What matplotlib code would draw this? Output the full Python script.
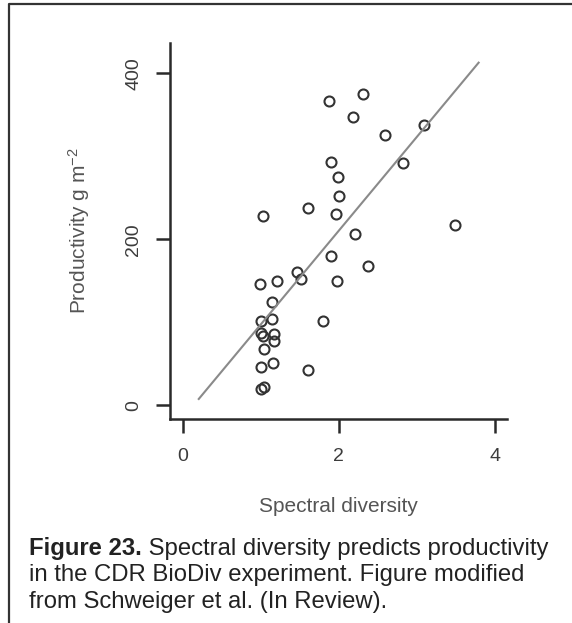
import matplotlib
matplotlib.use("Agg")
import matplotlib.pyplot as plt
from matplotlib.lines import Line2D

plt.rcParams["font.family"] = ["Liberation Sans", "DejaVu Sans"]
plt.rcParams["mathtext.fontset"] = "custom"
plt.rcParams["mathtext.rm"] = "Liberation Sans"
plt.rcParams["mathtext.it"] = "Liberation Sans:italic"

# data (spectral diversity vs productivity)
spectral_div = [1.88, 2.31, 2.18, 3.10, 2.60, 1.90, 2.82, 1.99, 2.01, 1.61,
                1.03, 1.96, 3.49, 2.21, 1.90, 2.38, 1.47, 0.99, 1.21, 1.52,
                1.98, 1.15, 1.80, 1.00, 1.14, 1.00, 1.03, 1.17, 1.17, 1.04,
                1.01, 1.16, 1.61, 1.00, 1.04]
productivity = [367, 375, 347, 338, 326, 293, 292, 275, 252, 238,
                228, 231, 217, 206, 180, 168, 161, 146, 150, 152,
                150, 124, 102, 101, 104, 87, 84, 86, 77, 68,
                46, 51, 42, 20, 22]

# fitted line, as drawn
fit_x = [0.205, 3.796]
fit_slope = 112.8
fit_intercept = -15.5

x_ticks = [0, 2, 4]
y_ticks = [0, 200, 400]

fig = plt.figure(figsize=(5.72, 6.23), dpi=100)
ax = fig.add_axes([170 / 572, 1 - 418.5 / 623, 337 / 572, 375.2 / 623])

ax.plot(spectral_div, productivity, linestyle="none", marker="o",
        markersize=7.2, markerfacecolor="none", markeredgecolor="#333333",
        markeredgewidth=1.5)
fit_y = [fit_intercept + fit_slope * v for v in fit_x]
ax.plot(fit_x, fit_y, color="#8a8a8a", linewidth=1.5)

ax.set_xlim(-0.164, 4.16)
ax.set_ylim(-15.9, 436)
ax.set_xticks(x_ticks)
ax.set_yticks(y_ticks)

for side in ["top", "right"]:
    ax.spines[side].set_visible(False)
for side in ["left", "bottom"]:
    ax.spines[side].set_linewidth(1.8)
    ax.spines[side].set_color("#2a2a2a")

ax.tick_params(direction="out", length=10, width=1.8, color="#2a2a2a",
               labelsize=14, labelcolor="#3c3c3c")
ax.tick_params(axis="x", pad=11)
ax.tick_params(axis="y", pad=10)
for lab in ax.get_yticklabels():
    lab.set_rotation(90)
    lab.set_va("center")

ax.set_xlabel("Spectral diversity", fontsize=15, color="#555555")
ax.xaxis.set_label_coords(0.5, -0.208)
ax.set_ylabel("Productivity g m$^{-2}$", fontsize=15, color="#555555")
ax.yaxis.set_label_coords(-0.232, 0.5)

# outer frame of the figure box
fig.add_artist(Line2D([9 / 572, 9 / 572, 1.0], [0.0, 1 - 4.3 / 623, 1 - 4.3 / 623],
                      transform=fig.transFigure, color="#333333", linewidth=1.6))

# caption
cap_size = 17.2
cap_color = "#222222"
bold = fig.text(29 / 572, 1 - 555 / 623, "Figure 23.", fontsize=cap_size,
                fontweight="bold", color=cap_color, va="baseline")
ax.annotate(" Spectral diversity predicts productivity", xy=(1, 0),
            xycoords=bold, fontsize=cap_size, color=cap_color,
            va="bottom", ha="left", annotation_clip=False)
fig.text(29 / 572, 1 - 581.5 / 623, "in the CDR BioDiv experiment. Figure modified",
         fontsize=cap_size, color=cap_color, va="baseline")
fig.text(29 / 572, 1 - 608 / 623, "from Schweiger et al. (In Review).",
         fontsize=cap_size, color=cap_color, va="baseline")

fig.savefig("out.png", dpi=100)
